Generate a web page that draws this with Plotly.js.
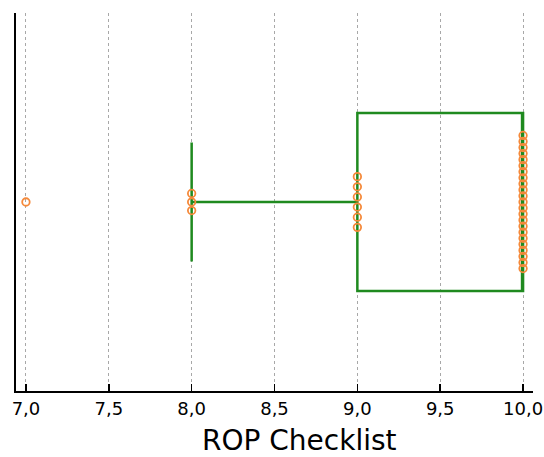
<!DOCTYPE html>
<html>
<head>
<meta charset="utf-8">
<script src="https://cdn.plot.ly/plotly-2.35.2.min.js"></script>
<style>html,body{margin:0;padding:0;background:#fff;}#chart{width:544px;height:457px;}</style>
</head>
<body>
<div id="chart"></div>
<script>
const scoreValues = [7, 8, 9, 10];
const scoreCounts = [1, 3, 6, 23];
// vertical spacing of stacked dots for each score (data units of the category axis)
const dotStep = [0, 0.048, 0.057, 0.034];
const tickValues = [7.0, 7.5, 8.0, 8.5, 9.0, 9.5, 10.0];
const axisTitle = 'ROP Checklist';

const samples = [];
const dotX = [];
const dotY = [];
scoreValues.forEach((v, i) => {
  const n = scoreCounts[i];
  for (let k = 0; k < n; k++) {
    samples.push(v);
    dotX.push(v);
    dotY.push((k - (n - 1) / 2) * dotStep[i]);
  }
});

const boxTrace = {
  type: 'box',
  x: samples,
  y0: 0,
  orientation: 'h',
  width: 1,
  boxpoints: 'outliers',
  marker: {opacity: 0, size: 1},
  whiskerwidth: 0.67,
  fillcolor: 'rgba(0,0,0,0)',
  line: {color: '#1f8a1f', width: 2.5},
  hoverinfo: 'skip',
  showlegend: false
};

const dotTrace = {
  type: 'scatter',
  mode: 'markers',
  x: dotX,
  y: dotY,
  marker: {symbol: 'circle-open', size: 7.5, color: '#f5893a', line: {width: 1.8, color: '#f5893a'}},
  showlegend: false
};

const layout = {
  width: 544,
  height: 457,
  margin: {l: 16, r: 11, t: 13, b: 66},
  paper_bgcolor: '#ffffff',
  plot_bgcolor: '#ffffff',
  separators: ',.',
  font: {family: 'DejaVu Sans, Verdana, sans-serif', color: '#000'},
  xaxis: {
    range: [6.94, 10.06],
    tickvals: tickValues,
    tickformat: '.1f',
    ticks: 'inside',
    ticklen: 7,
    tickwidth: 1.5,
    tickcolor: '#000',
    showline: true,
    linecolor: '#000',
    linewidth: 2,
    showgrid: true,
    gridcolor: '#a8a8a8',
    griddash: '3px,3px',
    gridwidth: 1,
    zeroline: false,
    tickfont: {size: 18, family: 'DejaVu Sans, Verdana, sans-serif'}
  },
  yaxis: {
    range: [-1.062, 1.062],
    showline: true,
    linecolor: '#000',
    linewidth: 2,
    showticklabels: false,
    ticks: '',
    showgrid: false,
    zeroline: false
  },
  annotations: [{
    text: axisTitle,
    xref: 'paper', yref: 'paper',
    x: 0.548, y: 0, xanchor: 'center', yanchor: 'middle',
    yshift: -49,
    showarrow: false,
    font: {size: 28, family: 'DejaVu Sans, Verdana, sans-serif', color: '#000'}
  }]
};

Plotly.newPlot('chart', [boxTrace, dotTrace], layout, {displayModeBar: false, staticPlot: true});
</script>
</body>
</html>
